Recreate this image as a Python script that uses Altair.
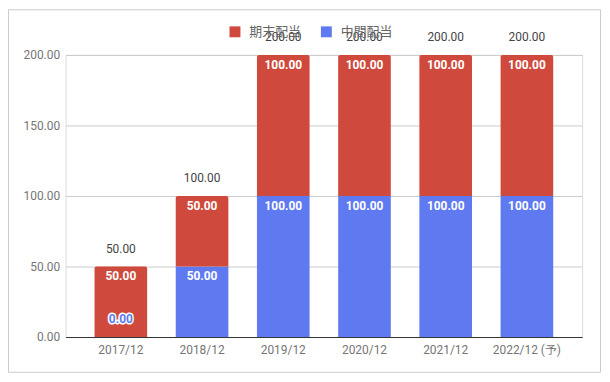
import altair as alt
import pandas as pd

years = ["2017/12", "2018/12", "2019/12", "2020/12", "2021/12", "2022/12 (予)"]
interim = [0, 50, 100, 100, 100, 100]      # 中間配当
final = [50, 50, 100, 100, 100, 100]       # 期末配当
series_names = ["期末配当", "中間配当"]
series_colors = ["#cf4a3c", "#5f7af0"]
y_ticks = [0, 25, 50, 75, 100, 125, 150, 175, 200]

rows = []
for yr, a, b in zip(years, interim, final):
    rows.append({"year": yr, "series": "中間配当", "start": 0, "end": a, "value": a})
    rows.append({"year": yr, "series": "期末配当", "start": a, "end": a + b, "value": b})
long_df = pd.DataFrame(rows)
tot_df = pd.DataFrame({"year": years, "total": [a + b for a, b in zip(interim, final)]})

FONT = "Roboto, 'Noto Sans CJK JP', sans-serif"

x = alt.X("year:N", sort=years,
          scale=alt.Scale(paddingInner=0.352, paddingOuter=0.356),
          axis=alt.Axis(title=None, labelAngle=0, ticks=False, grid=False,
                        domainColor="#333333", labelColor="#757575", labelFontSize=12,
                        labelPadding=8, labelFont=FONT))
y_scale = alt.Scale(domain=[0, 200], nice=False)
y_axis = alt.Axis(title=None, values=y_ticks, domain=False, ticks=False,
                  labelExpr="datum.value % 50 === 0 ? format(datum.value, '.2f') : ''",
                  gridColor={"condition": {"test": "datum.value % 50 === 0", "value": "#cccccc"},
                             "value": "#ebebeb"},
                  labelColor="#757575", labelFontSize=12, labelPadding=6, labelFont=FONT)
color = alt.Color("series:N",
                  scale=alt.Scale(domain=series_names, range=series_colors),
                  legend=alt.Legend(title=None, orient="none", legendX=164, legendY=-30,
                                    direction="horizontal", symbolType="square",
                                    symbolSize=121, symbolStrokeWidth=0, symbolOffset=0,
                                    labelFontSize=13, labelColor="#666666",
                                    labelFont="Noto Sans CJK JP",
                                    labelOffset=8, columnPadding=18))

base = alt.Chart(long_df)

bars_blue = base.transform_filter("datum.series === '中間配当'").mark_bar().encode(
    x=x, y=alt.Y("start:Q", scale=y_scale, axis=y_axis), y2="end:Q", color=color)
bars_red = base.transform_filter("datum.series === '期末配当'").mark_bar(
    cornerRadiusTopLeft=2, cornerRadiusTopRight=2).encode(
    x=x, y=alt.Y("start:Q", scale=y_scale), y2="end:Q", color=color)

seg_labels = base.transform_filter("datum.value > 0").mark_text(
    baseline="middle", dy=10, color="white", fontSize=12, fontWeight="bold", font=FONT).encode(
    x=x, y=alt.Y("end:Q", scale=y_scale), text=alt.Text("value:Q", format=".2f"))

zero_halo = base.transform_filter("datum.value === 0").mark_text(
    baseline="middle", dy=-18, color="white", stroke="white", strokeWidth=3,
    fontSize=12, fontWeight="bold", font=FONT).encode(
    x=x, y=alt.Y("end:Q", scale=y_scale), text=alt.Text("value:Q", format=".2f"))
zero_text = base.transform_filter("datum.value === 0").mark_text(
    baseline="middle", dy=-18, color="#5f7af0", fontSize=12, fontWeight="bold", font=FONT).encode(
    x=x, y=alt.Y("end:Q", scale=y_scale), text=alt.Text("value:Q", format=".2f"))

tot_labels = alt.Chart(tot_df).mark_text(
    baseline="middle", dy=-18, color="#444444", fontSize=12, font=FONT).encode(
    x=x, y=alt.Y("total:Q", scale=y_scale), text=alt.Text("total:Q", format=".2f"))

border = alt.Chart(pd.DataFrame({"k": [0]})).mark_rect(
    fill=None, stroke="#cccccc", strokeWidth=1).encode(
    x=alt.value(-57.5), x2=alt.value(538.5), y=alt.value(-45.5), y2=alt.value(319.5))

chart = alt.layer(bars_blue, bars_red, seg_labels, zero_halo, zero_text, tot_labels, border).properties(
    width=520, height=284,
    autosize=alt.AutoSizeParams(type="none"),
    padding={"left": 58, "top": 46, "right": 20, "bottom": 38},
).configure_view(stroke=None).configure(background="white")

chart.save("out.html", embed_options={"renderer": "svg", "actions": False})
